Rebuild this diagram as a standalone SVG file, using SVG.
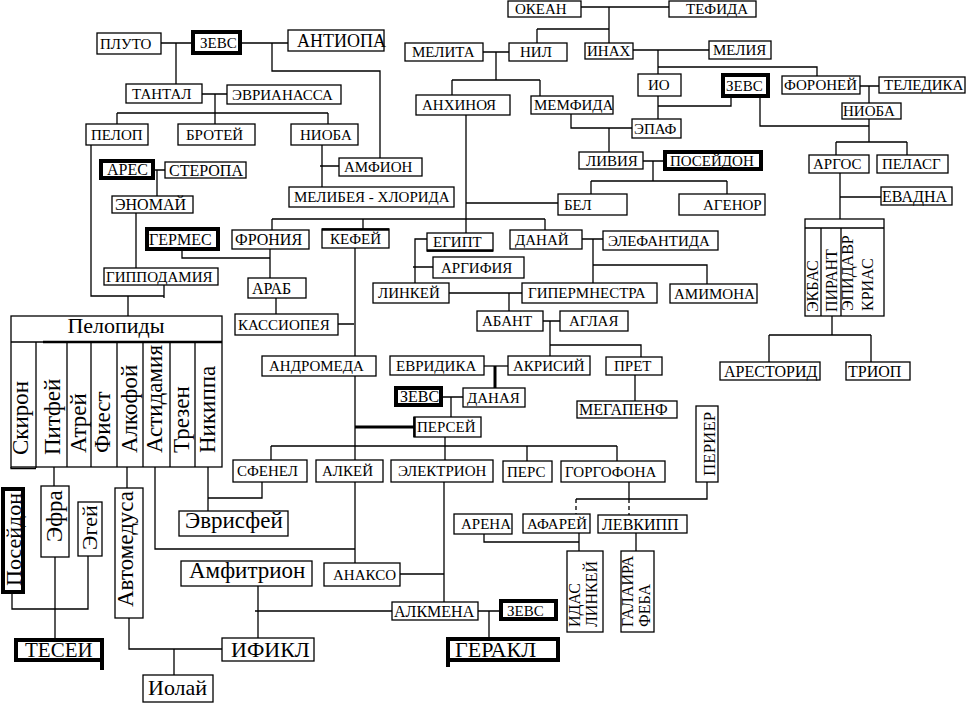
<svg xmlns="http://www.w3.org/2000/svg" width="966" height="703" viewBox="0 0 966 703">
<style>
rect{fill:#fff;stroke:#000;stroke-width:1.3}
rect.k{stroke-width:4}
text{font-family:"Liberation Serif","Times New Roman",serif;fill:#000;font-size:15px}
.f16{font-size:16px}.f17{font-size:17px}.f18{font-size:18px}.f21{font-size:21px}.f22{font-size:22px}.f23{font-size:23px}
#connectors path{fill:none;stroke:#000;stroke-width:1.3}
#connectors path.w{stroke-width:3}
#connectors path.d{stroke-dasharray:4 3}
.in{fill:none;stroke:#000;stroke-width:1.3}
</style>
<rect x="0" y="0" width="966" height="703" style="fill:#fff;stroke:none"/>
<g id="connectors">
<path d="M161,43H193M176,43V84M240,43H288M272,43V71H380V158"/>
<path d="M202,94H227M215,94V124M117,113H328M117,113V124M328,113V124"/>
<path d="M91,145V296H164M164,285V298M128,296V316"/>
<path d="M322,145V187M320,166H339"/>
<path d="M155,170H165M157,170V196M136,213V268"/>
<path d="M182,251V258H270M270,249V278M276,298V314M338,324H354"/>
<path d="M355,248V356M355,376V460"/>
<path class="w" d="M355,427H414"/>
<path d="M445,437V460M271,446H617M271,446V460M527,446V461M617,446V461"/>
<path d="M443,397H463M451,397V417"/>
<path d="M484,366H508"/>
<path class="w" d="M495,366V388"/>
<path d="M543,321H560M550,321V356M550,345H641V357M635,375V401"/>
<path d="M449,293H522M509,293V311"/>
<path d="M427,239H415V283M413,267H433"/>
<path d="M582,239H603M593,239V283M593,265H707V284"/>
<path d="M466,115V233M466,203H558"/>
<path d="M272,219H545M272,219V230M363,219V229M545,219V230"/>
<path d="M483,52H509M496,52V80M452,80H540M452,80V95M540,80V96"/>
<path d="M581,7H669M609,7V43M537,29H609M537,29V43"/>
<path d="M633,50H709M658,50V74M658,67H817V76"/>
<path d="M658,96V119M658,106H731V97"/>
<path d="M760,97V126H869"/>
<path d="M571,114V128H632M609,128V152"/>
<path d="M643,161H663M653,161V181M591,181H727M591,181V194M727,181V194"/>
<path d="M860,86H879M869,86V103M869,119V142M836,142H907M836,142V155M907,142V155"/>
<path d="M840,173V219M840,197H881"/>
<path d="M832,316V335M769,335H871M769,335V362M871,335V362"/>
<path d="M707,482V499H576M629,482V499"/>
<path class="d" d="M576,499V515M629,499V515"/>
<path d="M484,534V542H579M579,533V551M636,533V551"/>
<path d="M355,482V563M155,467V549H355"/>
<path d="M444,482V602M400,574H444"/>
<path d="M478,611H499M489,611V639"/>
<path d="M255,611H392M258,586V638"/>
<path d="M222,649H129V618M174,649V675"/>
<path d="M208,467V511M208,498H262V482"/>
<path d="M54,467V486M55,557V638"/>
<path d="M12,594V609H88V556M127,467V488"/>
</g>
<g id="pluto"><rect x="97" y="33" width="64" height="21"/><text x="100" y="49">ПЛУТО</text></g>
<g id="zeus1"><rect class="k" x="193" y="32" width="47" height="21"/><text x="200" y="48">ЗЕВС</text></g>
<g id="antiopa"><rect x="288" y="30" width="96" height="21"/><text class="f18" x="297" y="47">АНТИОПА</text></g>
<g id="tantal"><rect x="126" y="84" width="76" height="19"/><text x="132" y="99">ТАНТАЛ</text></g>
<g id="evrianassa"><rect x="227" y="85" width="114" height="19"/><text x="232" y="100">ЭВРИАНАССА</text></g>
<g id="pelop"><rect x="86" y="124" width="62" height="21"/><text x="91" y="140">ПЕЛОП</text></g>
<g id="brotey"><rect x="178" y="124" width="77" height="21"/><text x="186" y="140">БРОТЕЙ</text></g>
<g id="nioba1"><rect x="291" y="124" width="67" height="21"/><text x="300" y="140">НИОБА</text></g>
<g id="ares"><rect class="k" x="101" y="161" width="52" height="17"/><text class="f16" x="107" y="175">АРЕС</text></g>
<g id="steropa"><rect x="165" y="162" width="81" height="16"/><text class="f16" x="169" y="175.5">СТЕРОПА</text></g>
<g id="enomay"><rect x="112" y="196" width="81" height="17"/><text class="f16" x="115" y="210">ЭНОМАЙ</text></g>
<g id="amfion"><rect x="339" y="158" width="83" height="18"/><text x="344" y="172">АМФИОН</text></g>
<g id="melibeya"><rect x="289" y="187" width="165" height="20"/><text x="294" y="202">МЕЛИБЕЯ - ХЛОРИДА</text></g>
<g id="germes"><rect class="k" x="147" y="229" width="71" height="20"/><text class="f16" x="149" y="244.5">ГЕРМЕС</text></g>
<g id="froniya"><rect x="232" y="230" width="77" height="19"/><text class="f16" x="235" y="245">ФРОНИЯ</text></g>
<g id="kefey"><rect x="322" y="229" width="67" height="19"/><path class="in" d="M322,229.5H389" style="stroke-width:2.5"/><text x="330" y="244">КЕФЕЙ</text></g>
<g id="gippodamiya"><rect x="104" y="268" width="114" height="17"/><text x="106" y="282">ГИППОДАМИЯ</text></g>
<g id="arab"><rect x="248" y="278" width="58" height="20"/><text class="f16" x="252" y="293.5">АРАБ</text></g>
<g id="kassiopeya"><rect x="235" y="314" width="103" height="21"/><text x="238" y="330">КАССИОПЕЯ</text></g>
<g id="andromeda"><rect x="262" y="356" width="114" height="20"/><text x="269" y="371">АНДРОМЕДА</text></g>
<g id="okean"><rect x="508" y="1" width="73" height="16"/><text x="515" y="14">ОКЕАН</text></g>
<g id="tefida"><rect x="669" y="1" width="87" height="16"/><text x="686" y="14">ТЕФИДА</text></g>
<g id="melita"><rect x="405" y="43" width="78" height="18"/><text x="412" y="57">МЕЛИТА</text></g>
<g id="nil"><rect x="509" y="43" width="58" height="18"/><text x="520" y="57">НИЛ</text></g>
<g id="inah"><rect x="585" y="43" width="48" height="16"/><text x="587" y="56">ИНАХ</text></g>
<g id="meliya"><rect x="709" y="41" width="62" height="18"/><text x="713" y="55">МЕЛИЯ</text></g>
<g id="anhinoya"><rect x="416" y="95" width="94" height="20"/><text x="422" y="110">АНХИНОЯ</text></g>
<g id="memfida"><rect x="531" y="96" width="82" height="18"/><text x="534" y="110">МЕМФИДА</text></g>
<g id="io"><rect x="638" y="74" width="43" height="22"/><text x="648" y="90">ИО</text></g>
<g id="zeus2"><rect class="k" x="723" y="75" width="45" height="21"/><text x="726" y="91">ЗЕВС</text></g>
<g id="epaf"><rect x="632" y="119" width="49" height="19"/><text x="634" y="134">ЭПАФ</text></g>
<g id="liviya"><rect x="579" y="152" width="64" height="17"/><text x="586" y="166">ЛИВИЯ</text></g>
<g id="poseidon1"><rect class="k" x="665" y="152" width="96" height="17"/><text x="670" y="166">ПОСЕЙДОН</text></g>
<g id="bel"><rect x="558" y="194" width="69" height="21"/><text x="564" y="210">БЕЛ</text></g>
<g id="agenor"><rect x="679" y="194" width="86" height="21"/><text x="703" y="210">АГЕНОР</text></g>
<g id="foroney"><rect x="782" y="76" width="78" height="18"/><text x="784" y="90">ФОРОНЕЙ</text></g>
<g id="teledika"><rect x="879" y="77" width="86" height="16"/><text x="884" y="90">ТЕЛЕДИКА</text></g>
<g id="nioba2"><rect x="842" y="103" width="59" height="16"/><text x="843" y="116">НИОБА</text></g>
<g id="argos"><rect x="809" y="155" width="60" height="18"/><text x="813" y="169">АРГОС</text></g>
<g id="pelasg"><rect x="877" y="155" width="71" height="18"/><text x="882" y="169">ПЕЛАСГ</text></g>
<g id="evadna"><rect x="881" y="187" width="71" height="18"/><text class="f16" x="882" y="201.5">ЕВАДНА</text></g>
<g id="argos-sons"><rect x="805" y="219" width="79" height="97"/><path class="in" d="M805,228H884M821,228V316M841,228V316"/>
<text class="f16" transform="translate(818,312) rotate(-90)">ЭКБАС</text>
<text class="f16" transform="translate(837,312) rotate(-90)">ПИРАНТ</text>
<text class="f16" transform="translate(853,311) rotate(-90)">ЭПИДАВР</text>
<text class="f16" transform="translate(873,311) rotate(-90)">КРИАС</text></g>
<g id="arestorid"><rect x="720" y="362" width="100" height="18"/><text class="f16" x="724" y="376.5">АРЕСТОРИД</text></g>
<g id="triop"><rect x="846" y="362" width="64" height="18"/><text class="f16" x="848" y="376.5">ТРИОП</text></g>
<g id="egipt"><rect x="427" y="233" width="66" height="18"/><path class="in" d="M427,250.5H493" style="stroke-width:2.5"/><text x="433" y="247">ЕГИПТ</text></g>
<g id="danay"><rect x="510" y="230" width="72" height="19"/><text x="515" y="245">ДАНАЙ</text></g>
<g id="elefantida"><rect x="603" y="231" width="115" height="19"/><text x="608" y="246">ЭЛЕФАНТИДА</text></g>
<g id="argifiya"><rect x="433" y="257" width="91" height="21"/><text x="441" y="273">АРГИФИЯ</text></g>
<g id="linkey1"><rect x="373" y="283" width="76" height="20"/><text x="378" y="298">ЛИНКЕЙ</text></g>
<g id="gipermnestra"><rect x="522" y="283" width="135" height="20"/><text x="528" y="298">ГИПЕРМНЕСТРА</text></g>
<g id="amimona"><rect x="670" y="284" width="87" height="19"/><text x="674" y="299">АМИМОНА</text></g>
<g id="abant"><rect x="477" y="311" width="66" height="20"/><text x="482" y="326">АБАНТ</text></g>
<g id="aglaya"><rect x="560" y="311" width="68" height="20"/><text x="569" y="326">АГЛАЯ</text></g>
<g id="evridika"><rect x="390" y="356" width="94" height="19"/><text x="396" y="371">ЕВРИДИКА</text></g>
<g id="akrisiy"><rect x="508" y="356" width="82" height="19"/><text x="513" y="371">АКРИСИЙ</text></g>
<g id="pret"><rect x="606" y="357" width="56" height="18"/><text x="614" y="371">ПРЕТ</text></g>
<g id="zeus3"><rect class="k" x="396" y="388" width="45" height="17"/><text class="f16" x="400" y="402">ЗЕВС</text></g>
<g id="danaya"><rect x="463" y="388" width="62" height="19"/><text x="467" y="403">ДАНАЯ</text></g>
<g id="megapenf"><rect x="577" y="401" width="100" height="17"/><text class="f16" x="579" y="415">МЕГАПЕНФ</text></g>
<g id="persey"><rect x="414" y="417" width="67" height="20"/><path class="in" d="M414.5,417V437" style="stroke-width:2.5"/><text x="417" y="432">ПЕРСЕЙ</text></g>
<g id="sfenel"><rect x="233" y="460" width="74" height="22"/><text x="237" y="476">СФЕНЕЛ</text></g>
<g id="alkey"><rect x="316" y="460" width="67" height="22"/><text x="322" y="476">АЛКЕЙ</text></g>
<g id="elektrion"><rect x="391" y="460" width="102" height="22"/><text x="398" y="476">ЭЛЕКТРИОН</text></g>
<g id="pers"><rect x="503" y="461" width="49" height="21"/><text x="507" y="477">ПЕРС</text></g>
<g id="gorgofona"><rect x="561" y="461" width="104" height="21"/><text x="565" y="477">ГОРГОФОНА</text></g>
<g id="perier"><rect x="696" y="406" width="22" height="76"/><text class="f17" transform="translate(715,476) rotate(-90)">ПЕРИЕР</text></g>
<g id="arena"><rect x="454" y="514" width="58" height="20"/><text x="461" y="529">АРЕНА</text></g>
<g id="afarey"><rect x="523" y="514" width="67" height="19"/><text x="527" y="529">АФАРЕЙ</text></g>
<g id="levkipp"><rect x="598" y="515" width="89" height="18"/><text class="f16" x="602" y="529.5">ЛЕВКИПП</text></g>
<g id="idas-linkey"><rect x="567" y="551" width="36" height="81"/><text class="f16" transform="translate(580,627) rotate(-90)">ИДАС</text><text class="f16" transform="translate(597,627) rotate(-90)">ЛИНКЕЙ</text></g>
<g id="galaira-feba"><rect x="621" y="551" width="33" height="81"/><text class="f16" transform="translate(633,627) rotate(-90)">ГАЛАИРА</text><text class="f16" transform="translate(650,627) rotate(-90)">ФЕБА</text></g>
<g id="anakso"><rect x="324" y="563" width="76" height="23"/><text x="333" y="580">АНАКСО</text></g>
<g id="alkmena"><rect x="392" y="602" width="86" height="18"/><text class="f16" x="394" y="616.5">АЛКМЕНА</text></g>
<g id="zeus4"><rect class="k" x="501" y="601" width="55" height="18"/><text x="507" y="615.5">ЗЕВС</text></g>
<g id="gerakl"><rect class="k" x="448" y="639" width="110" height="21"/><path class="in" d="M448,637V667" style="stroke-width:4"/><text class="f22" x="455" y="657">ГЕРАКЛ</text></g>
<g id="amfitrion"><rect x="181" y="561" width="131" height="25"/><text class="f23" x="189" y="578">Амфитрион</text></g>
<g id="ifikl"><rect x="222" y="638" width="92" height="23"/><text class="f22" x="231" y="657">ИФИКЛ</text></g>
<g id="iolay"><rect x="143" y="675" width="70" height="27"/><text class="f22" x="148" y="695">Иолай</text></g>
<g id="evrisfey"><rect x="179" y="511" width="109" height="25"/><text class="f23" x="185" y="528">Эврисфей</text></g>
<g id="pelopidy"><rect x="11" y="316" width="211" height="151"/>
<path class="in" d="M11,342H222"/><path class="in" d="M43,342H222" style="stroke-width:2.5"/>
<path class="in" d="M36,342V468M11,467V468.5H36M67,342V467M91,342V467M117,342V467M143,342V467M170,342V467M195,342V467"/>
<text class="f22" x="116" y="333" text-anchor="middle">Пелопиды</text>
<text class="f23" transform="translate(28,455) rotate(-90)">Скирон</text>
<text class="f23" transform="translate(60,455) rotate(-90)">Питфей</text>
<text class="f23" transform="translate(86,453) rotate(-90)">Атрей</text>
<text class="f23" transform="translate(110,453) rotate(-90)">Фиест</text>
<text class="f23" transform="translate(137,453) rotate(-90)">Алкофой</text>
<text class="f23" transform="translate(162,453) rotate(-90)">Астидамия</text>
<text class="f23" transform="translate(189,453) rotate(-90)">Трезен</text>
<text class="f23" transform="translate(215,453) rotate(-90)">Никиппа</text></g>
<g id="poseidon2"><rect class="k" x="3" y="489" width="20" height="103"/><text class="f22" transform="translate(21,586) rotate(-90)">Посейдон</text></g>
<g id="efra"><rect x="41" y="486" width="28" height="71"/><text class="f23" transform="translate(62,542) rotate(-90)">Эфра</text></g>
<g id="egey"><rect x="78" y="502" width="24" height="54"/><text class="f22" transform="translate(97,550) rotate(-90)">Эгей</text></g>
<g id="avtomedusa"><rect x="115" y="488" width="28" height="130"/><text class="f23" transform="translate(133,607) rotate(-90)">Автомедуса</text></g>
<g id="tesey"><rect class="k" x="16" y="640" width="86" height="20"/><path class="in" d="M102,638V670" style="stroke-width:4"/><text class="f21" x="25" y="657">ТЕСЕЙ</text></g>
</svg>
